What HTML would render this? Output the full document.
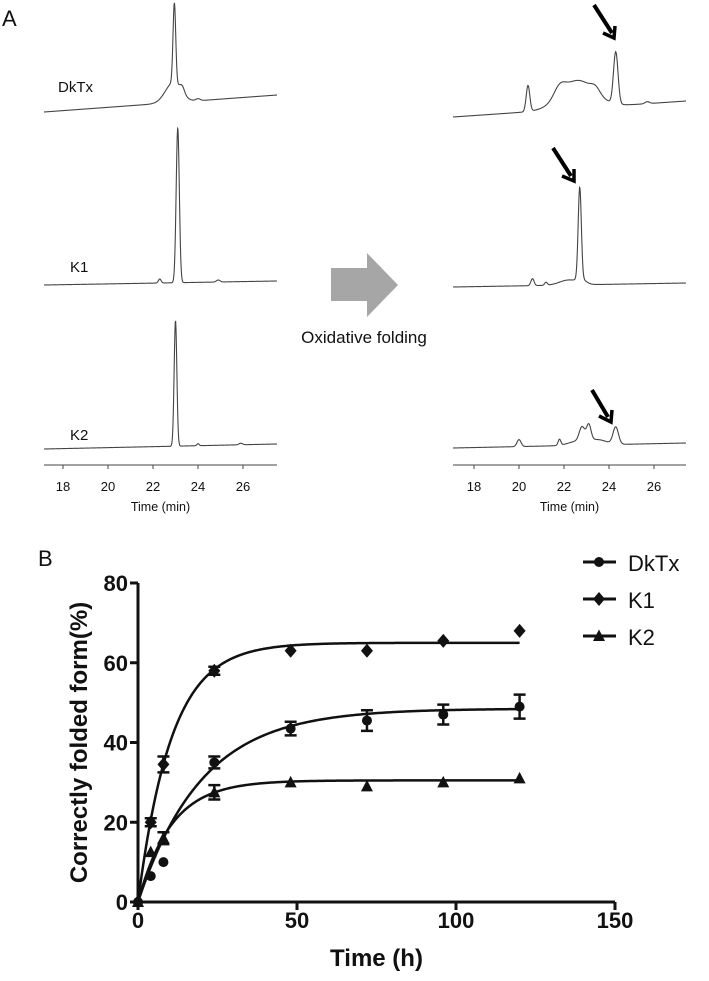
<!DOCTYPE html>
<html><head><meta charset="utf-8"><style>
html,body{margin:0;padding:0;background:#fff;}
svg{display:block;}
.lab{font-family:"Liberation Sans",sans-serif;fill:#111;}
.b{font-family:"Liberation Sans Narrow","Liberation Sans",sans-serif;font-weight:bold;fill:#111;}
</style></head><body>
<svg id="fig" width="709" height="981" viewBox="0 0 709 981" xmlns="http://www.w3.org/2000/svg">
<text class="lab" x="2" y="26" font-size="22">A</text>
<text class="lab" x="38" y="566" font-size="22">B</text>
<g id="chromL"></g>
<g id="chromR"></g>
<g>
<polygon points="331,268 367,268 367,253 398,285 367,317 367,301 331,301" fill="#a6a6a6"/>
<text class="lab" x="364" y="343" font-size="17" text-anchor="middle">Oxidative folding</text>
</g>
<g stroke="#000" stroke-width="4" fill="none">
<line x1="594" y1="5" x2="612" y2="33"/><polyline points="603,33 614,38 615,26" stroke-width="3.5"/>
<line x1="553" y1="148" x2="571" y2="176"/><polyline points="562,176 574,181 574,169" stroke-width="3.5"/>
<line x1="592" y1="390" x2="608" y2="417"/><polyline points="599,416 611,422 612,410" stroke-width="3.5"/>
</g>
<g id="chartB"></g>
</svg>
<script>
// ===== Panel A chromatogram data (time in min, relative heights in px) =====
const chromTicks = [18, 20, 22, 24, 26];
const leftTraces = [
  {name:"DkTx", base0:112, base1:95, peaks:[[22.95,80,0.06],[22.9,20,0.35],[23.3,6,0.1],[24.0,2,0.1]]},
  {name:"K1", base0:285, base1:281, peaks:[[23.1,155,0.07],[22.3,4,0.06],[24.9,2,0.08]]},
  {name:"K2", base0:449, base1:444, peaks:[[23.0,126,0.06],[24.0,2,0.05],[25.9,1.5,0.08]]}
];
const rightTraces = [
  {peaks:[[20.4,26,0.08],[22.6,28,0.75],[21.8,10,0.25],[24.3,52,0.1],[23.4,6,0.2],[25.7,2,0.1]], base0:117, base1:101},
  {peaks:[[22.7,92,0.07],[20.6,7,0.07],[21.2,3,0.06],[22.2,5,0.4],[22.8,4,0.2]], base0:287, base1:283},
  {peaks:[[20.0,7,0.09],[21.8,6,0.06],[22.8,14,0.12],[23.1,16,0.1],[22.6,4,0.4],[23.5,5,0.4],[24.3,17,0.12]], base0:448, base1:443}
];
const labelsL = [["DkTx",58,92],["K1",70,272],["K2",70,440]];

function drawChrom(gid, traces, x0, x1, t18x, t26x, showLabels){
  const g = document.getElementById(gid);
  const sx = t => t18x + (t-18)*(t26x-t18x)/8;
  const tmin = 18 - (t18x-x0)*8/(t26x-t18x), tmax = 18 + (x1-t18x)*8/(t26x-t18x);
  traces.forEach((tr,i)=>{
    let d="";
    for(let k=0;k<=600;k++){
      const t = tmin + (tmax-tmin)*k/600;
      let y = tr.base0 + (tr.base1-tr.base0)*k/600;
      tr.peaks.forEach(p=>{ y -= p[1]*Math.exp(-0.5*Math.pow((t-p[0])/p[2],2)); });
      d += (k?"L":"M")+sx(t).toFixed(2)+","+y.toFixed(2);
    }
    const p = document.createElementNS("http://www.w3.org/2000/svg","path");
    p.setAttribute("d",d); p.setAttribute("fill","none"); p.setAttribute("stroke","#444"); p.setAttribute("stroke-width","1.1");
    
    
    g.appendChild(p);
  });
  const ax = document.createElementNS("http://www.w3.org/2000/svg","line");
  ax.setAttribute("x1",x0);ax.setAttribute("x2",x1);ax.setAttribute("y1",465);ax.setAttribute("y2",465);ax.setAttribute("stroke","#444");
  
  
  g.appendChild(ax);
  chromTicks.forEach(t=>{
    const l = document.createElementNS("http://www.w3.org/2000/svg","line");
    l.setAttribute("x1",sx(t));l.setAttribute("x2",sx(t));l.setAttribute("y1",465);l.setAttribute("y2",469);l.setAttribute("stroke","#444");
    
    
    g.appendChild(l);
    const tx = document.createElementNS("http://www.w3.org/2000/svg","text");
    tx.setAttribute("x",sx(t));tx.setAttribute("y",491);tx.setAttribute("text-anchor","middle");tx.setAttribute("font-size","13");tx.setAttribute("class","lab");
    tx.textContent=t;
    
    
    g.appendChild(tx);
  });
  const tt = document.createElementNS("http://www.w3.org/2000/svg","text");
  tt.setAttribute("x",(x0+x1)/2);tt.setAttribute("y",511);tt.setAttribute("text-anchor","middle");tt.setAttribute("font-size","12.5");tt.setAttribute("class","lab");
  tt.textContent="Time (min)";
  
  
  g.appendChild(tt);
  if(showLabels){
    labelsL.forEach(lb=>{
      const t = document.createElementNS("http://www.w3.org/2000/svg","text");
      t.setAttribute("x",lb[1]);t.setAttribute("y",lb[2]);t.setAttribute("font-size","15");t.setAttribute("class","lab");
      t.textContent=lb[0];
      
      
      g.appendChild(t);
    });
  }
}
drawChrom("chromL", leftTraces, 44, 277, 63, 243, true);
drawChrom("chromR", rightTraces, 453, 686, 474, 654, false);

// ===== Panel B data =====
const timesH = [0, 4, 8, 24, 48, 72, 96, 120];
const dktxVals = [0, 6.5, 10, 35, 43.5, 45.5, 47, 49];
const dktxErr = [0, 0, 0, 1.5, 1.7, 2.6, 2.5, 3];
const k1Vals = [0, 20, 34.5, 58, 63, 63, 65.5, 68];
const k1Err = [0, 1, 2, 1, 0, 0, 0, 0];
const k2Vals = [0, 12.5, 16, 27.5, 30, 29, 30, 31];
const k2Err = [0, 0, 1.5, 1.8, 0, 0, 0, 0];
const fitYmax = [48.5, 65, 30.5];
const fitK = [0.05, 0.095, 0.096];
const seriesNames = ["DkTx", "K1", "K2"];
const xTicks = [0, 50, 100, 150];
const yTicks = [0, 20, 40, 60, 80];

(function(){
  const g = document.getElementById("chartB");
  const NS="http://www.w3.org/2000/svg";
  const X = v => 138 + v*(615-138)/150;
  const Y = v => 902 - v*(902-583)/80;
  function el(tag, attrs){ const e=document.createElementNS(NS,tag); for(const k in attrs) e.setAttribute(k,attrs[k]); g.appendChild(e); return e; }
  let a = el("path",{d:`M${X(0)},${Y(80)}L${X(0)},${Y(0)}L${X(150)},${Y(0)}`,fill:"none",stroke:"#111","stroke-width":3});
  
  
  yTicks.forEach(v=>{
    const t=el("line",{x1:X(0)-8,x2:X(0),y1:Y(v),y2:Y(v),stroke:"#111","stroke-width":3});
    
    
    const tx=el("text",{x:X(0)-10,y:Y(v)+8,"text-anchor":"end","font-size":"22",class:"b"});
    tx.textContent=v;
    
    
  });
  xTicks.forEach(v=>{
    const t=el("line",{x1:X(v),x2:X(v),y1:Y(0),y2:Y(0)+8,stroke:"#111","stroke-width":3});
    
    
    const tx=el("text",{x:X(v),y:928,"text-anchor":"middle","font-size":"22",class:"b"});
    tx.textContent=v;
    
    
  });
  const xt=el("text",{x:X(75),y:966,"text-anchor":"middle","font-size":"24",class:"b"});
  xt.textContent="Time (h)";
  
  
  const yt=el("text",{x:0,y:0,"text-anchor":"middle","font-size":"24",class:"b",transform:`translate(87,${Y(40)}) rotate(-90)`});
  yt.textContent="Correctly folded form(%)";
  
  

  const vals=[dktxVals,k1Vals,k2Vals], errs=[dktxErr,k1Err,k2Err];
  function marker(kind,cx,cy,s){
    let m;
    if(kind===0) m=el("circle",{cx:cx,cy:cy,r:s,fill:"#111"});
    else if(kind===1) m=el("polygon",{points:`${cx},${cy-s*1.4} ${cx+s*1.2},${cy} ${cx},${cy+s*1.4} ${cx-s*1.2},${cy}`,fill:"#111"});
    else m=el("polygon",{points:`${cx},${cy-s*1.3} ${cx+s*1.2},${cy+s} ${cx-s*1.2},${cy+s}`,fill:"#111"});
    return m;
  }
  for(let s=0;s<3;s++){
    let d="";
    for(let k=0;k<=240;k++){ const t=120*k/240; const y=fitYmax[s]*(1-Math.exp(-fitK[s]*t)); d+=(k?"L":"M")+X(t).toFixed(2)+","+Y(y).toFixed(2); }
    const c=el("path",{d:d,fill:"none",stroke:"#111","stroke-width":2.5});
    
    
    timesH.forEach((t,i)=>{
      const v=vals[s][i], e=errs[s][i];
      if(e>0){
        const eb=el("path",{d:`M${X(t)},${Y(v+e)}L${X(t)},${Y(v-e)}M${X(t)-6},${Y(v+e)}L${X(t)+6},${Y(v+e)}M${X(t)-6},${Y(v-e)}L${X(t)+6},${Y(v-e)}`,stroke:"#111","stroke-width":2.5,fill:"none"});
        
        
      }
      const m=marker(s,X(t),Y(v),5);
      
      
    });
  }
  // legend
  for(let s=0;s<3;s++){
    const ly=562+s*37;
    const l=el("line",{x1:583,x2:616,y1:ly,y2:ly,stroke:"#111","stroke-width":3});
    
    
    const m=marker(s,599,ly,5);
    
    
    const tx=el("text",{x:628,y:ly+9,"font-size":"22",class:"lab"});
    tx.textContent=seriesNames[s];
    
    
  }
})();
</script>
</body></html>
